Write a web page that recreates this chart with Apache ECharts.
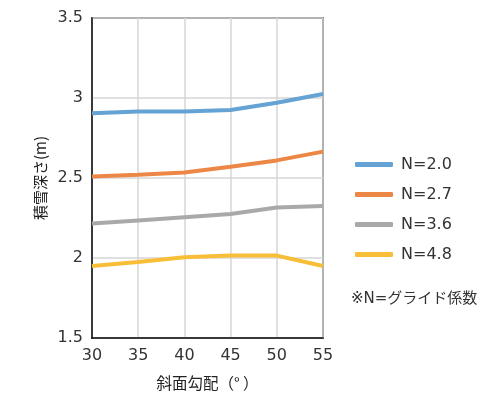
<!DOCTYPE html>
<html><head><meta charset="utf-8">
<script src="https://cdn.jsdelivr.net/npm/echarts@6/dist/echarts.min.js"></script>
<style>html,body{margin:0;padding:0;background:#fff}#c{width:487px;height:393px}</style>
</head><body><div id="c"></div>
<script>
const xValues = [30, 35, 40, 45, 50, 55];
const seriesNames = ['N=2.0', 'N=2.7', 'N=3.6', 'N=4.8'];
const n20 = [2.905, 2.915, 2.915, 2.925, 2.97, 3.025];
const n27 = [2.51, 2.52, 2.535, 2.57, 2.61, 2.665];
const n36 = [2.215, 2.235, 2.255, 2.275, 2.315, 2.325];
const n48 = [1.95, 1.975, 2.005, 2.015, 2.015, 1.95];
const colors = ['#64a3d3', '#ec8746', '#a9a9a9', '#f8be38'];
const allData = [n20, n27, n36, n48];
const font = '"DejaVu Sans", "Noto Sans CJK JP", sans-serif';
const jfont = '"Noto Sans CJK JP", sans-serif';
const chart = echarts.init(document.getElementById('c'));
chart.setOption({
  animation: false,
  grid: { left: 92, right: 164, top: 18, bottom: 55, show: true, borderColor: '#111', borderWidth: 1.5,
          containLabel: false, outerBoundsMode: 'none' },
  xAxis: {
    type: 'value', min: 30, max: 55, interval: 5,
    name: '斜面勾配（° ）', nameLocation: 'middle', nameGap: 37,
    nameTextStyle: { fontSize: 15.5, color: '#222', fontFamily: jfont },
    axisLine: { lineStyle: { color: '#111', width: 1.5 } },
    axisTick: { show: false },
    axisLabel: { fontSize: 16, color: '#333', margin: 10, fontFamily: font },
    splitLine: { show: true, lineStyle: { color: '#d6d6d6', width: 1.5 } }
  },
  yAxis: {
    type: 'value', min: 1.5, max: 3.5, interval: 0.5,
    name: '積雪深さ(m)', nameLocation: 'middle', nameGap: 44, nameRotate: 90,
    nameTextStyle: { fontSize: 15, color: '#222', fontFamily: jfont },
    axisLine: { show: true, lineStyle: { color: '#111', width: 1.5 } },
    axisTick: { show: false },
    axisLabel: { fontSize: 16, color: '#333', margin: 9, fontFamily: font },
    splitLine: { show: true, lineStyle: { color: '#d6d6d6', width: 1.5 } }
  },
  legend: {
    orient: 'vertical', left: 350, top: 150, itemWidth: 38, itemHeight: 5, itemGap: 11,
    icon: 'roundRect',
    textStyle: { fontSize: 16, color: '#333', fontFamily: font, padding: [0, 0, 0, 3], lineHeight: 19 },
    data: seriesNames
  },
  graphic: [{
    type: 'text', left: 351, top: 292,
    style: { text: '※N=グライド係数', fontSize: 15, fill: '#333', fontFamily: font }
  }],
  series: allData.map((d, i) => ({
    name: seriesNames[i], type: 'line', symbol: 'none',
    data: xValues.map((x, j) => [x, d[j]]),
    lineStyle: { color: colors[i], width: 4 },
    itemStyle: { color: colors[i] }
  }))
});
</script></body></html>
